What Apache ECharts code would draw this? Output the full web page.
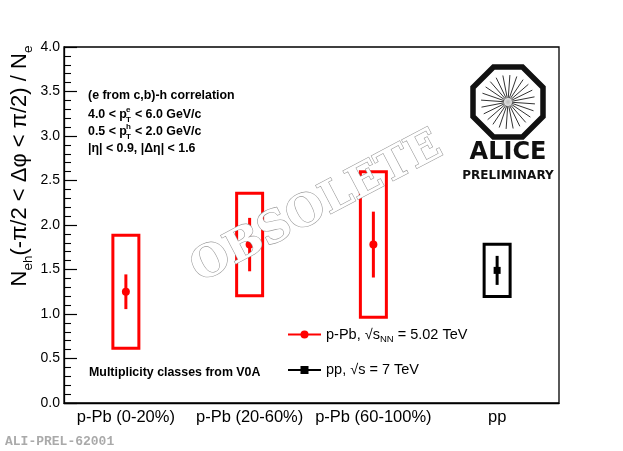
<!DOCTYPE html>
<html>
<head>
<meta charset="utf-8">
<script src="https://cdn.jsdelivr.net/npm/echarts@6/dist/echarts.min.js"></script>
<style>
html,body{margin:0;padding:0;background:#fff;}
#chart{width:623px;height:451px;}
</style>
</head>
<body>
<div id="chart"></div>
<script>
// ---- data ----
const categories = ['p-Pb (0-20%)', 'p-Pb (20-60%)', 'p-Pb (60-100%)', 'pp'];
const pPbCategoryIndex = [0, 1, 2];
const pPbValue = [1.25, 1.78, 1.78];
const pPbStatErr = [0.195, 0.30, 0.37];
const pPbSysErr = [0.635, 0.576, 0.817];
const ppCategoryIndex = [3];
const ppValue = [1.49];
const ppStatErr = [0.163];
const ppSysErr = [0.293];
const yTicks = [0, 0.5, 1.0, 1.5, 2.0, 2.5, 3.0, 3.5, 4.0];

const FONT = 'Liberation Sans';

function buildData(idx, val, stat, sys) {
  return idx.map((c, i) => [c, val[i], stat[i], sys[i]]);
}

function makeRender(color, markerType) {
  return function (params, api) {
    const c = api.value(0), v = api.value(1), se = api.value(2), sy = api.value(3);
    const p = api.coord([c, v]);
    const band = api.size([1, 0])[0];
    const hw = band * 0.105;
    const sTop = api.coord([c, v + sy])[1];
    const sBot = api.coord([c, v - sy])[1];
    const eTop = api.coord([c, v + se])[1];
    const eBot = api.coord([c, v - se])[1];
    const children = [
      { type: 'rect', shape: { x: p[0] - hw, y: sTop, width: 2 * hw, height: sBot - sTop },
        style: { fill: 'none', stroke: color, lineWidth: 3 } },
      { type: 'line', shape: { x1: p[0], y1: eTop, x2: p[0], y2: eBot },
        style: { stroke: color, lineWidth: 3 } }
    ];
    if (markerType === 'circle') {
      children.push({ type: 'circle', shape: { cx: p[0], cy: p[1], r: 4 }, style: { fill: color } });
    } else {
      children.push({ type: 'rect', shape: { x: p[0] - 3.5, y: p[1] - 3.5, width: 7, height: 7 }, style: { fill: color } });
    }
    return { type: 'group', children: children };
  };
}

// ---- ALICE logo decoration ----
const logoCx = 508, logoCy = 102, logoAp = 35;
const octR = logoAp / Math.cos(Math.PI / 8);
const octPts = [];
for (let k = 0; k < 8; k++) {
  const a = Math.PI / 8 + k * Math.PI / 4;
  octPts.push([logoCx + octR * Math.cos(a), logoCy + octR * Math.sin(a)]);
}
const logoChildren = [
  { type: 'polygon', shape: { points: octPts }, style: { fill: 'none', stroke: '#111', lineWidth: 5.5, lineJoin: 'miter' } }
];
for (let k = 0; k < 24; k++) {
  const a = k * Math.PI / 12 + 0.07;
  logoChildren.push({ type: 'line', shape: {
      x1: logoCx + 4 * Math.cos(a), y1: logoCy + 4 * Math.sin(a),
      x2: logoCx + 27 * Math.cos(a), y2: logoCy + 27 * Math.sin(a) },
    style: { stroke: '#333', lineWidth: 1 } });
}
logoChildren.push({ type: 'circle', shape: { cx: logoCx, cy: logoCy, r: 6 },
  style: { fill: new echarts.graphic.RadialGradient(0.5, 0.5, 0.5, [{ offset: 0, color: '#bbb' }, { offset: 1, color: 'rgba(170,170,170,0)' }]) } });

const chart = echarts.init(document.getElementById('chart'));
chart.setOption({
  animation: false,
  backgroundColor: '#fff',
  grid: { left: 64, right: 64, top: 47, bottom: 48, show: true, borderColor: '#000', borderWidth: 1.3, backgroundColor: 'transparent' },
  xAxis: {
    type: 'category',
    data: categories,
    boundaryGap: true,
    axisLine: { lineStyle: { color: '#000', width: 1.3 } },
    axisTick: { inside: true, length: 11, lineStyle: { color: '#000', width: 1.3 } },
    axisLabel: { color: '#000', fontFamily: FONT, fontSize: 16.5, margin: 6, interval: 0, hideOverlap: false },
    splitLine: { show: false }
  },
  yAxis: {
    type: 'value',
    min: 0, max: 4, interval: 0.5,
    axisLine: { show: true, lineStyle: { color: '#000', width: 1.3 } },
    axisTick: { show: true, inside: true, length: 13, lineStyle: { color: '#000', width: 1.2 } },
    minorTick: { show: true, splitNumber: 5, length: 7, lineStyle: { color: '#000', width: 1.1 } },
    axisLabel: { color: '#000', fontFamily: FONT, fontSize: 14, margin: 4,
      formatter: v => (yTicks.indexOf(v) >= 0 ? v.toFixed(1) : '') },
    splitLine: { show: false }
  },
  legend: {
    left: 287, top: 327, orient: 'vertical', itemGap: 18, itemWidth: 33, itemHeight: 10, padding: 0,
    data: ['p-Pb', 'pp'],
    selectedMode: false,
    textStyle: { fontFamily: FONT, fontSize: 14.5, color: '#000',
      rich: {
        m: { fontFamily: FONT, fontSize: 14.5, color: '#000', lineHeight: 20 },
        sub: { fontFamily: FONT, fontSize: 9.5, color: '#000', lineHeight: 10, verticalAlign: 'bottom' }
      } },
    formatter: function (name) {
      if (name === 'p-Pb') return '{m|p-Pb, √s}{sub|NN}{m| = 5.02 TeV}';
      return '{m|pp, √s = 7 TeV}';
    }
  },
  series: [
    { name: 'p-Pb', type: 'line', data: [], color: '#ff0000', symbol: 'circle', symbolSize: 8,
      lineStyle: { color: '#ff0000', width: 3 }, itemStyle: { color: '#ff0000' } },
    { name: 'pp', type: 'line', data: [], color: '#000', symbol: 'rect', symbolSize: 7,
      lineStyle: { color: '#000', width: 3 }, itemStyle: { color: '#000' } },
    { name: 'p-Pb data', type: 'custom', renderItem: makeRender('#ff0000', 'circle'),
      data: buildData(pPbCategoryIndex, pPbValue, pPbStatErr, pPbSysErr), z: 3 },
    { name: 'pp data', type: 'custom', renderItem: makeRender('#000', 'rect'),
      data: buildData(ppCategoryIndex, ppValue, ppStatErr, ppSysErr), z: 3 }
  ],
  graphic: [
    { type: 'text', x: 20, y: 166, rotation: Math.PI / 2, z: 50,
      style: { text: '{n|N}{sub|eh}{n|(-π/2 < Δφ < π/2) / N}{sub|e}', align: 'center', verticalAlign: 'middle',
        rich: {
          n: { fontFamily: FONT, fontSize: 22, lineHeight: 30, fill: '#000' },
          sub: { fontFamily: FONT, fontSize: 13.5, lineHeight: 14, fill: '#000', verticalAlign: 'bottom' }
        } } },
    // info text block
    { type: 'text', x: 88, y: 96, z: 50, style: { text: '(e from c,b)-h correlation', font: 'bold 12.4px "Liberation Sans"', fill: '#000', verticalAlign: 'middle' } },
    { type: 'text', x: 88, y: 115, z: 50, style: { text: '4.0 < p', font: 'bold 12.4px "Liberation Sans"', fill: '#000', verticalAlign: 'middle' } },
    { type: 'text', x: 126, y: 110, z: 50, style: { text: 'e', font: 'bold 8px "Liberation Sans"', fill: '#000', verticalAlign: 'middle' } },
    { type: 'text', x: 126, y: 120, z: 50, style: { text: 'T', font: 'bold 8px "Liberation Sans"', fill: '#000', verticalAlign: 'middle' } },
    { type: 'text', x: 131.5, y: 115, z: 50, style: { text: ' < 6.0 GeV/c', font: 'bold 12.4px "Liberation Sans"', fill: '#000', verticalAlign: 'middle' } },
    { type: 'text', x: 88, y: 132, z: 50, style: { text: '0.5 < p', font: 'bold 12.4px "Liberation Sans"', fill: '#000', verticalAlign: 'middle' } },
    { type: 'text', x: 126, y: 127, z: 50, style: { text: 'h', font: 'bold 8px "Liberation Sans"', fill: '#000', verticalAlign: 'middle' } },
    { type: 'text', x: 126, y: 137, z: 50, style: { text: 'T', font: 'bold 8px "Liberation Sans"', fill: '#000', verticalAlign: 'middle' } },
    { type: 'text', x: 131.5, y: 132, z: 50, style: { text: ' < 2.0 GeV/c', font: 'bold 12.4px "Liberation Sans"', fill: '#000', verticalAlign: 'middle' } },
    { type: 'text', x: 88, y: 149, z: 50, style: { text: '|η| < 0.9, |Δη| < 1.6', font: 'bold 12.4px "Liberation Sans"', fill: '#000', verticalAlign: 'middle' } },
    { type: 'text', x: 89, y: 373, z: 50, style: { text: 'Multiplicity classes from V0A', font: 'bold 12.4px "Liberation Sans"', fill: '#000', verticalAlign: 'middle' } },
    // ALICE logo
    { type: 'group', z: 50, children: logoChildren },
    { type: 'text', x: 508, y: 153, z: 50, style: { text: 'ALICE', font: 'bold 24px "DejaVu Sans"', fill: '#111', align: 'center', verticalAlign: 'middle' } },
    { type: 'text', x: 508, y: 176, z: 50, style: { text: 'PRELIMINARY', font: 'bold 12px "DejaVu Sans"', fill: '#111', align: 'center', verticalAlign: 'middle' } },
    // footer
    { type: 'text', x: 5, y: 442, z: 50, style: { text: 'ALI-PREL-62001', font: 'bold 13px "Liberation Mono"', fill: '#aaa', verticalAlign: 'middle' } },
    // watermark
    { type: 'text', x: 317, y: 208, rotation: 0.485, z: 100,
      style: { text: 'OBSOLETE', font: 'bold 44px "DejaVu Serif"', fill: '#fff', stroke: '#999', lineWidth: 1.2, align: 'center', verticalAlign: 'middle' } }
  ]
});
</script>
</body>
</html>
